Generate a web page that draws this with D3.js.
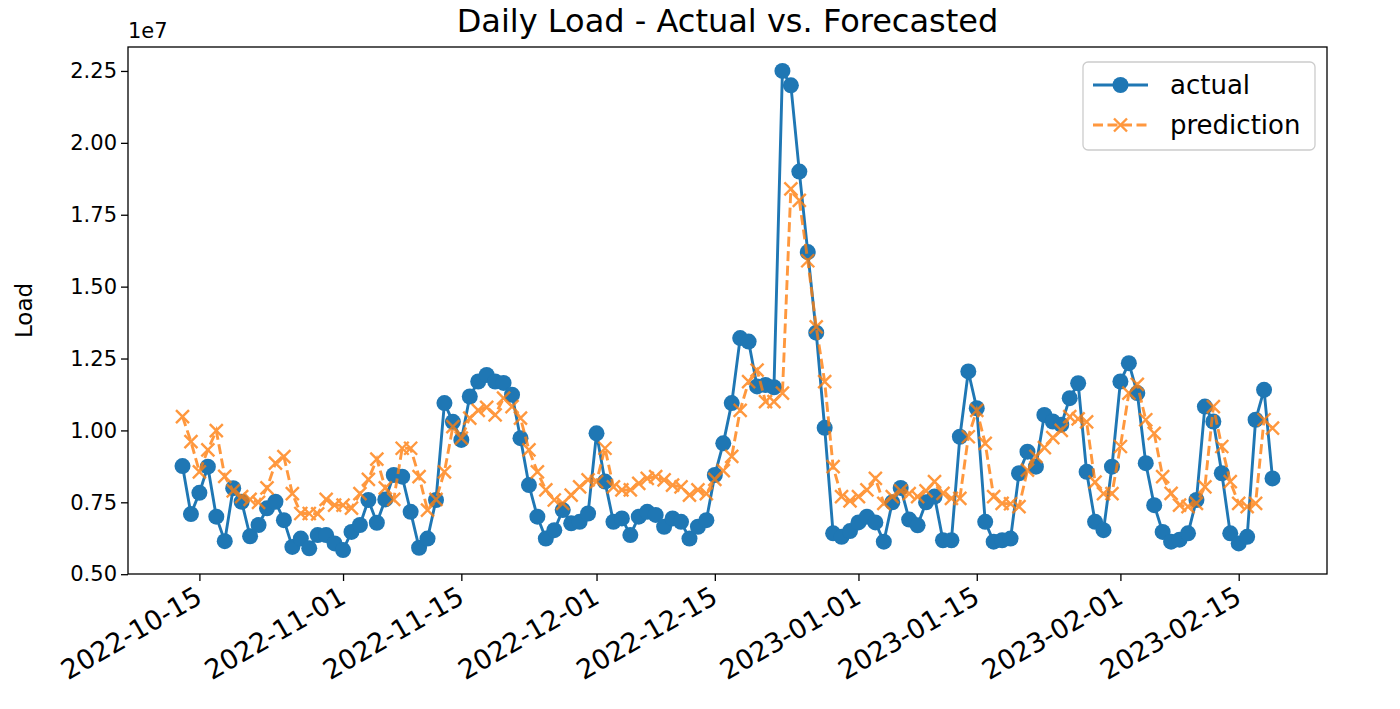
<!DOCTYPE html>
<html><head><meta charset="utf-8">
<script src="https://cdn.jsdelivr.net/npm/d3@7"></script>
<style>
body{margin:0;background:#fff}
svg{display:block}
text{font-family:"DejaVu Sans",sans-serif;fill:#000}
</style>
</head><body>
<svg id="chart" width="1400" height="709"></svg>
<script>
// Daily dates (categories): one value per day from startDate to endDate
const startDate = "2022-10-13";
const endDate = "2023-02-19";
// Values in units of 1e7
const actual = [
0.876,0.709,0.783,0.874,0.700,0.615,0.799,0.752,0.632,0.671,
0.729,0.752,0.688,0.595,0.624,0.590,0.636,0.636,0.607,0.584,
0.647,0.671,0.758,0.679,0.760,0.845,0.839,0.717,0.592,0.624,
0.758,1.095,1.030,0.967,1.118,1.170,1.193,1.170,1.165,1.124,
0.973,0.810,0.700,0.624,0.653,0.723,0.677,0.682,0.711,0.990,
0.822,0.682,0.694,0.636,0.700,0.717,0.706,0.665,0.694,0.682,
0.624,0.665,0.688,0.845,0.955,1.095,1.321,1.309,1.153,1.158,
1.150,2.250,2.200,1.900,1.620,1.340,1.009,0.642,0.630,0.650,
0.680,0.700,0.680,0.613,0.750,0.800,0.690,0.670,0.750,0.770,
0.618,0.618,0.978,1.205,1.077,0.682,0.613,0.618,0.624,0.851,
0.926,0.874,1.054,1.031,1.020,1.112,1.164,0.856,0.682,0.653,
0.874,1.170,1.234,1.130,0.886,0.740,0.647,0.613,0.620,0.642,
0.758,1.083,1.031,0.851,0.642,0.607,0.630,1.037,1.141,0.833
];
const prediction = [
1.048,0.961,0.856,0.932,0.999,0.840,0.790,0.770,0.760,0.750,
0.800,0.886,0.909,0.780,0.711,0.711,0.710,0.760,0.740,0.740,
0.730,0.780,0.830,0.900,0.800,0.760,0.938,0.938,0.839,0.723,
0.760,0.856,1.013,0.973,1.043,1.070,1.080,1.054,1.112,1.083,
1.043,0.932,0.856,0.793,0.758,0.746,0.775,0.804,0.828,0.822,
0.938,0.804,0.793,0.793,0.816,0.833,0.839,0.828,0.810,0.804,
0.775,0.793,0.780,0.830,0.860,0.910,1.070,1.170,1.210,1.100,
1.100,1.130,1.840,1.800,1.590,1.360,1.170,0.874,0.770,0.755,
0.770,0.793,0.833,0.746,0.770,0.790,0.780,0.770,0.790,0.822,
0.781,0.764,0.764,0.978,1.070,0.955,0.770,0.746,0.745,0.735,
0.862,0.910,0.940,0.975,1.000,1.048,1.040,1.030,0.820,0.780,
0.780,0.944,1.130,1.160,1.037,0.990,0.839,0.781,0.740,0.735,
0.746,0.804,1.083,0.944,0.822,0.746,0.735,0.746,1.037,1.008
];
const xTickLabels = ["2022-10-15","2022-11-01","2022-11-15","2022-12-01","2022-12-15","2023-01-01","2023-01-15","2023-02-01","2023-02-15"];
const yTickLabels = ["0.50","0.75","1.00","1.25","1.50","1.75","2.00","2.25"];
const seriesNames = ["actual","prediction"];
const titleText = "Daily Load - Actual vs. Forecasted";
const yLabel = "Load";
const offsetText = "1e7";

const parse = d3.utcParse("%Y-%m-%d");
const dates = d3.utcDay.range(parse(startDate), d3.utcDay.offset(parse(endDate), 1));
const rowsA = dates.map((d, i) => ({date: d, v: actual[i]}));
const rowsP = dates.map((d, i) => ({date: d, v: prediction[i]}));

const L = 128, R = 1327, T = 47, B = 574;
const svg = d3.select("#chart");

const t0 = dates[0], t1 = dates[dates.length - 1];
const span = t1 - t0;
const x = d3.scaleUtc()
  .domain([new Date(+t0 - 0.05 * span), new Date(+t1 + 0.05 * span)])
  .range([L, R]);
const allV = actual.concat(prediction);
const vmin = d3.min(allV), vmax = d3.max(allV), vr = vmax - vmin;
const y = d3.scaleLinear().domain([vmin - 0.05 * vr, vmax + 0.05 * vr]).range([B, T]);

const blue = "#1f77b4", orange = "#ff7f0e";

// clip
svg.append("defs").append("clipPath").attr("id", "clip")
  .append("rect").attr("x", L).attr("y", T).attr("width", R - L).attr("height", B - T);

const plot = svg.append("g").attr("clip-path", "url(#clip)");
const line = d3.line().x(d => x(d.date)).y(d => y(d.v));

// actual
plot.append("path").datum(rowsA).attr("d", line)
  .attr("fill", "none").attr("stroke", blue).attr("stroke-width", 2.9)
  .attr("stroke-linejoin", "round");
plot.append("g").selectAll("circle").data(rowsA).join("circle")
  .attr("cx", d => x(d.date)).attr("cy", d => y(d.v)).attr("r", 8)
  .attr("fill", blue);

// prediction
const pg = plot.append("g").attr("opacity", 0.8);
pg.append("path").datum(rowsP).attr("d", line)
  .attr("fill", "none").attr("stroke", orange).attr("stroke-width", 2.9)
  .attr("stroke-dasharray", "10,4.5");
const xs = 6.5;
pg.append("g").selectAll("path").data(rowsP).join("path")
  .attr("d", d => {
    const cx = x(d.date), cy = y(d.v);
    return `M${cx - xs},${cy - xs}L${cx + xs},${cy + xs}M${cx - xs},${cy + xs}L${cx + xs},${cy - xs}`;
  })
  .attr("stroke", orange).attr("stroke-width", 2.4).attr("fill", "none");

// axes
const tickLen = 7;
const xTicks = xTickLabels.map(s => parse(s));
const xAxis = d3.axisBottom(x).tickValues(xTicks).tickSize(tickLen).tickFormat(d3.utcFormat("%Y-%m-%d"));
const gx = svg.append("g").attr("transform", `translate(0,${B})`).call(xAxis);
gx.select(".domain").remove();
gx.selectAll(".tick line").attr("stroke", "#000").attr("stroke-width", 1.3);
gx.selectAll(".tick text")
  .attr("font-size", 27).attr("font-family", "DejaVu Sans").attr("fill", "#000")
  .attr("text-anchor", "end").attr("dy", null).attr("y", 0)
  .attr("transform", "translate(4,28) rotate(-30)");

const yAxis = d3.axisLeft(y).tickValues(yTickLabels.map(Number)).tickSize(tickLen).tickFormat(d3.format(".2f"));
const gy = svg.append("g").attr("transform", `translate(${L},0)`).call(yAxis);
gy.select(".domain").remove();
gy.selectAll(".tick line").attr("stroke", "#000").attr("stroke-width", 1.3);
gy.selectAll(".tick text").attr("font-size", 21).attr("font-family", "DejaVu Sans").attr("fill", "#000").attr("x", -11);

// frame
svg.append("rect").attr("x", L).attr("y", T).attr("width", R - L).attr("height", B - T)
  .attr("fill", "none").attr("stroke", "#000").attr("stroke-width", 1.3);

// texts
svg.append("text").attr("x", (L + R) / 2).attr("y", 32).attr("text-anchor", "middle")
  .attr("font-size", 32).text(titleText);
svg.append("text").attr("x", L).attr("y", 38).attr("font-size", 21).text(offsetText);
svg.append("text").attr("transform", `translate(32,${(T + B) / 2}) rotate(-90)`)
  .attr("text-anchor", "middle").attr("font-size", 23).text(yLabel);

// legend
const lg = svg.append("g");
lg.append("rect").attr("x", 1083).attr("y", 62).attr("width", 232).attr("height", 88).attr("rx", 5)
  .attr("fill", "#fff").attr("fill-opacity", 0.8).attr("stroke", "#cccccc").attr("stroke-width", 1.3);
lg.append("line").attr("x1", 1093).attr("x2", 1148).attr("y1", 85).attr("y2", 85)
  .attr("stroke", blue).attr("stroke-width", 2.9);
lg.append("circle").attr("cx", 1120.5).attr("cy", 85).attr("r", 8).attr("fill", blue);
lg.append("text").attr("x", 1170).attr("y", 94).attr("font-size", 26).text(seriesNames[0]);
const lp = lg.append("g").attr("opacity", 0.8);
lp.append("line").attr("x1", 1093).attr("x2", 1148).attr("y1", 125).attr("y2", 125)
  .attr("stroke", orange).attr("stroke-width", 2.9).attr("stroke-dasharray", "10,4.5");
lp.append("path").attr("d", `M${1120.5 - xs},${125 - xs}L${1120.5 + xs},${125 + xs}M${1120.5 - xs},${125 + xs}L${1120.5 + xs},${125 - xs}`)
  .attr("stroke", orange).attr("stroke-width", 2.4);
lg.append("text").attr("x", 1170).attr("y", 134).attr("font-size", 26).text(seriesNames[1]);
</script>
</body></html>
